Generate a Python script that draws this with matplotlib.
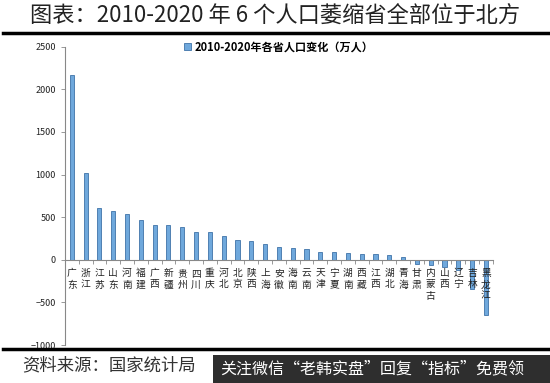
import matplotlib.pyplot as plt
from matplotlib.patches import Rectangle
import numpy as np

plt.rcParams['font.family'] = ['Noto Sans CJK SC', 'DejaVu Sans']

provinces = ["广东", "浙江", "江苏", "山东", "河南", "福建", "广西", "新疆", "贵州", "四川",
             "重庆", "河北", "北京", "陕西", "上海", "安徽", "海南", "云南", "天津", "宁夏",
             "湖南", "西藏", "江西", "湖北", "青海", "甘肃", "内蒙古", "山西", "辽宁", "吉林", "黑龙江"]
change = [2169, 1014, 609, 573, 534, 465, 410, 404, 381, 325,
          320, 276, 228, 221, 185, 151, 141, 124, 93, 90,
          74, 64, 62, 52, 30, -55, -65, -80, -115, -338, -646]
yticks = [-1000, -500, 0, 500, 1000, 1500, 2000, 2500]

fig = plt.figure(figsize=(5.5, 3.83), dpi=100)
ax = fig.add_axes([0.118, 0.0992, 0.778, 0.779])

x = np.arange(len(provinces))
ax.bar(x, change, width=0.3, color="#6FA8DC", edgecolor="#3F73A8", linewidth=0.6,
       label="2010-2020年各省人口变化（万人）", zorder=2)

ax.set_xlim(-0.5, len(provinces) - 0.5)
ax.set_ylim(-1000, 2500)
ax.set_yticks(yticks)
ax.tick_params(axis='y', labelsize=6.5, colors="#888888", length=3, width=0.6)
for lab in ax.get_yticklabels():
    lab.set_color("#222222")

ax.spines['top'].set_visible(False)
ax.spines['right'].set_visible(False)
ax.spines['bottom'].set_position(('data', 0))
ax.spines['bottom'].set_color("#888888")
ax.spines['left'].set_color("#888888")
ax.set_xticks(np.arange(-0.5, len(provinces), 1.0))
ax.set_xticklabels([])
ax.tick_params(axis='x', length=3, width=0.6, color="#888888", direction='out')

for i, name in enumerate(provinces):
    ax.text(i, -100, "\n".join(name), ha='center', va='top', fontsize=7,
            linespacing=1.15, color="#222222")

leg = ax.legend(loc='center', bbox_to_anchor=(0.50, 1.0), frameon=False,
                fontsize=8, handlelength=0.6, handleheight=0.6, handletextpad=0.3)
for t in leg.get_texts():
    t.set_fontweight('bold')

fig.text(0.5, 0.958, "图表：2010-2020 年 6 个人口萎缩省全部位于北方", ha='center', va='center',
         fontsize=16, color="#222222")
fig.add_artist(plt.Line2D([0.006, 0.996], [0.914, 0.914], color='black', linewidth=2.5))
fig.add_artist(plt.Line2D([0.006, 0.996], [0.088, 0.088], color='black', linewidth=2.5))

fig.text(0.04, 0.045, "资料来源：国家统计局", ha='left', va='center',
         fontsize=12.5, style='italic', color="#333333")
fig.add_artist(Rectangle((0.388, 0.0), 0.612, 0.073, transform=fig.transFigure,
                         facecolor="#2E2E2E", edgecolor='none', zorder=5))
fig.text(0.40, 0.036, "关注微信“老韩实盘”回复“指标”免费领", ha='left', va='center',
         fontsize=11.5, color="white", zorder=6)

fig.savefig("out.png", dpi=100)
